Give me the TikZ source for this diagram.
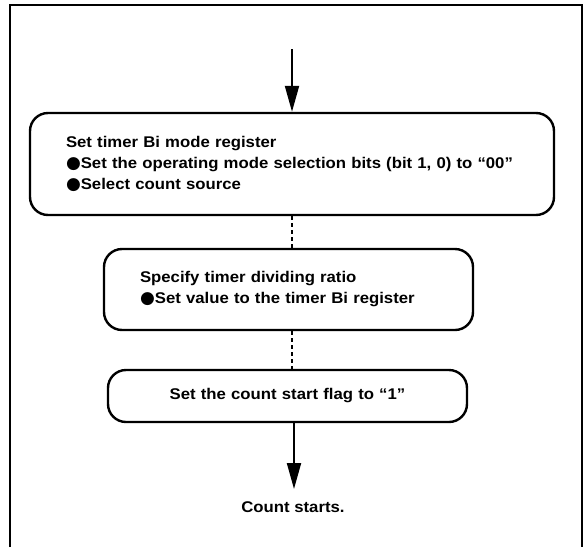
\documentclass[tikz,border=0pt]{standalone}
\usepackage{fontspec}
\setmainfont{Liberation Sans}[FakeStretch=1.08]
\newfontfamily\bulletfont{DejaVu Sans}
\newcommand\blt{{\bulletfont\fontsize{17pt}{21pt}\selectfont ●}}
\usetikzlibrary{arrows.meta}
\begin{document}
\begin{tikzpicture}[x=1pt,y=-1pt,
  font=\fontsize{15.5pt}{21pt}\selectfont\bfseries,
  stepbox/.style={draw, line width=2.4pt, rounded corners=18pt, inner xsep=37pt, inner ysep=0pt, align=left},
  flow/.style={line width=2pt, -{Triangle[length=26pt,width=14pt]}},
  dashlink/.style={line width=2pt, dash pattern=on 4pt off 3pt}]
\useasboundingbox (0,0) rectangle (587,547);
\draw[line width=1.8pt] (10,547) -- (10,5) -- (582,5) -- (582,547);
\node[stepbox, text width=452pt, inner xsep=36pt, minimum height=102pt] (b1) at (292,164)
  {Set timer Bi mode register\\
   \blt Set the operating mode selection bits (bit 1, 0) to “00”\\
   \blt Select count source};
\node[stepbox, text width=297pt, inner xsep=36pt, minimum height=81pt] (b2) at (288.5,289.5)
  {Specify timer dividing ratio\\
   \blt Set value to the timer Bi register};
\node[stepbox, text width=285pt, align=center, minimum height=52pt] (b3) at (287.5,396)
  {Set the count start flag to “1”};
\coordinate (top) at (292,49);
\coordinate (end) at (294,489);
\node (cs) at (293,507) {Count starts.};
\draw[flow] (top) -- (b1.north -| top);
\draw[dashlink] (b1.south -| top) -- (b2.north -| top);
\draw[dashlink] (b2.south -| top) -- (b3.north -| top);
\draw[flow] (b3.south -| end) -- (end);
\end{tikzpicture}
\end{document}
